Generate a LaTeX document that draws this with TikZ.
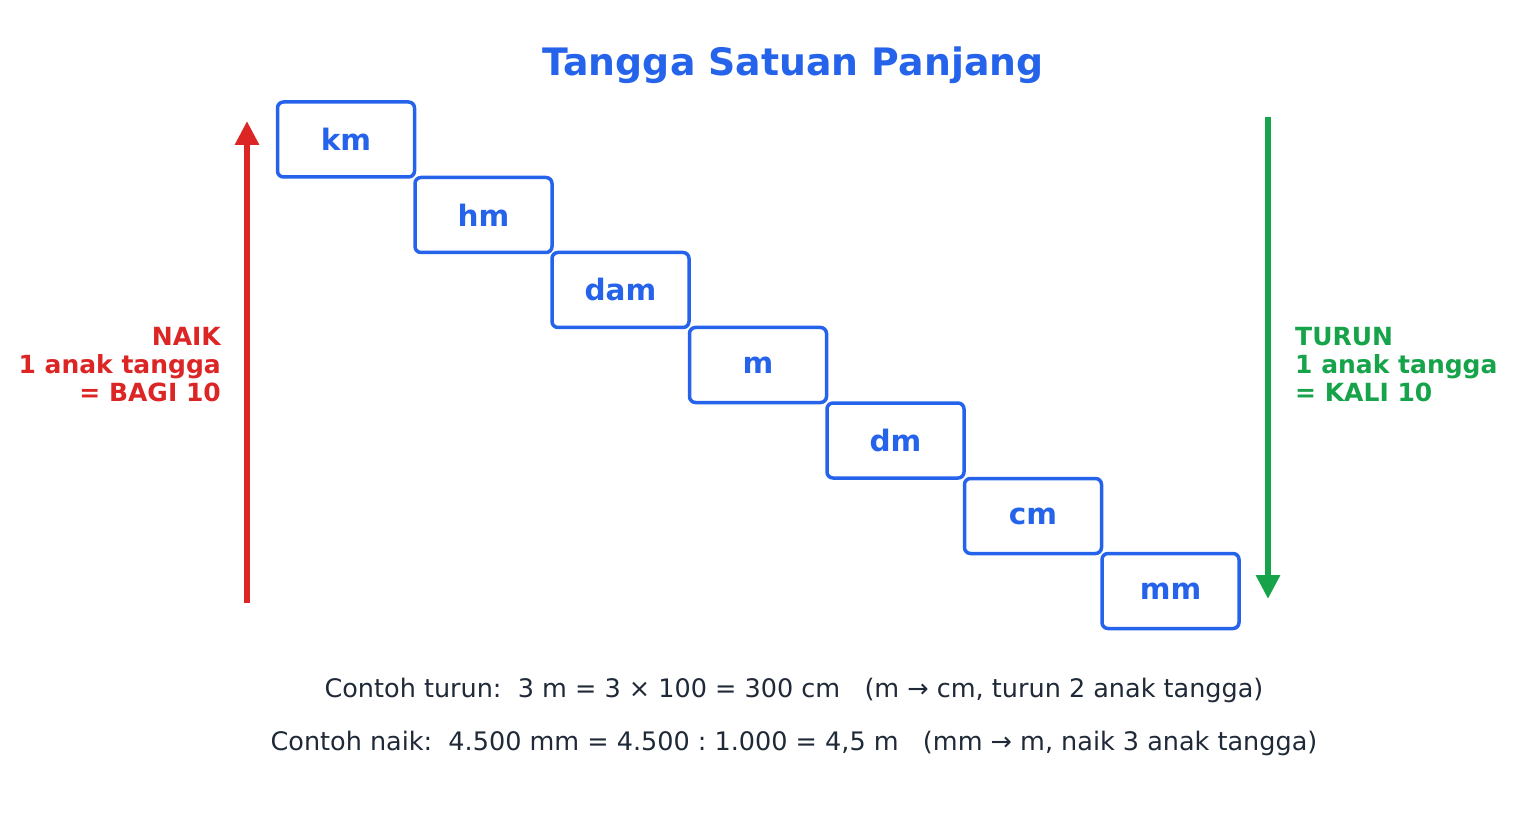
\documentclass[tikz,border=0pt]{standalone}
\usepackage{fontspec}
\setmainfont{DejaVu Sans}
\usetikzlibrary{arrows.meta}
\frenchspacing
\definecolor{cblue}{HTML}{2563EB}
\definecolor{cred}{HTML}{DC2626}
\definecolor{cgreen}{HTML}{16A34A}
\definecolor{ctext}{HTML}{1F2937}
\tikzset{
  unitbox/.style={draw=cblue, line width=3.5pt, rounded corners=6pt, minimum width=137pt, minimum height=75pt, inner sep=0pt, text=cblue, font=\fontsize{29.5}{34}\selectfont\bfseries},
  sidelabel/.style={inner sep=0pt, font=\fontsize{25}{28}\selectfont\bfseries},
  bigarrow/.style={line width=6pt, -{Triangle[width=23pt,length=24pt]}},
  bottomtext/.style={inner sep=0pt, text=ctext, font=\fontsize{25.5}{30}\selectfont},
}
\begin{document}
\begin{tikzpicture}[x=1pt,y=-1pt]
\useasboundingbox (0,0) rectangle (1516,826);
\node[text=cblue, font=\fontsize{37.8}{44}\selectfont\bfseries] (title) at (793,65) {Tangga Satuan Panjang};
\node[unitbox] (km)  at (346,139.5) {km};
\node[unitbox] (hm)  at (483.5,215) {hm};
\node[unitbox] (dam) at (620.5,290) {dam};
\node[unitbox] (m)   at (758,365) {m};
\node[unitbox] (dm)  at (895.5,440.5) {dm};
\node[unitbox] (cm)  at (1033,516) {cm};
\node[unitbox] (mm)  at (1170.5,591) {mm};
\coordinate (upstart) at (247,603);
\coordinate (upend) at (247,121);
\coordinate (downstart) at (1268,117);
\coordinate (downend) at (1268,599);
\draw[bigarrow, cred] (upstart) -- (upend);
\draw[bigarrow, cgreen] (downstart) -- (downend);
\node[sidelabel, text=cred, align=right, anchor=east] (naik) at (221,365) {NAIK\\1 anak tangga\\= BAGI 10};
\node[sidelabel, text=cgreen, align=left, anchor=west] (turun) at (1295,365) {TURUN\\1 anak tangga\\= KALI 10};
\node[bottomtext] (ex1) at (794,690) {Contoh turun:\ \ 3 m = 3 × 100 = 300 cm\ \ \ (m → cm, turun 2 anak tangga)};
\node[bottomtext] (ex2) at (794,743) {Contoh naik:\ \ 4.500 mm = 4.500 : 1.000 = 4,5 m\ \ \ (mm → m, naik 3 anak tangga)};
\end{tikzpicture}
\end{document}
